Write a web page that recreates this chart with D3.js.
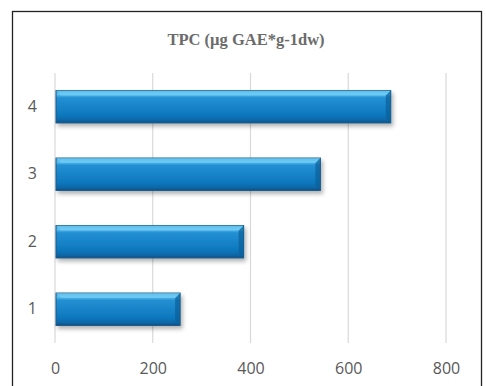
<!DOCTYPE html>
<html>
<head>
<meta charset="utf-8">
<script src="https://cdn.jsdelivr.net/npm/d3@7"></script>
<style>
  body { margin: 0; background: #fff; }
</style>
</head>
<body>
<div id="plot"></div>
<script>
// chart data
var categories = ["1", "2", "3", "4"];
var values = [256, 386, 543, 687];
var xTicks = [0, 200, 400, 600, 800];
var title = "TPC (\u00b5g GAE*g-1dw)";

const W = 486, H = 386;
const margin = {top: 73, right: 40, bottom: 43, left: 55},
    width = 446 - margin.left,
    height = 343 - margin.top;

var svg = d3.select("div#plot")
  .append("svg")
    .attr("width", W)
    .attr("height", H);

// gradient + shadow for the bevelled bars
var defs = svg.append("defs");
var grad = defs.append("linearGradient")
    .attr("id", "barGrad")
    .attr("x1", 0).attr("y1", 0).attr("x2", 0).attr("y2", 1);
grad.append("stop").attr("offset", "0%").attr("stop-color", "#3aa6e0");
grad.append("stop").attr("offset", "12%").attr("stop-color", "#5cc0ef");
grad.append("stop").attr("offset", "22%").attr("stop-color", "#2490d4");
grad.append("stop").attr("offset", "75%").attr("stop-color", "#0d78be");
grad.append("stop").attr("offset", "92%").attr("stop-color", "#0a66a6");
grad.append("stop").attr("offset", "100%").attr("stop-color", "#0a4f82");

var shadow = defs.append("filter").attr("id", "shadow")
    .attr("x", "-5%").attr("y", "-20%").attr("width", "115%").attr("height", "160%");
shadow.append("feDropShadow")
    .attr("dx", 2).attr("dy", 3).attr("stdDeviation", 2)
    .attr("flood-color", "#000").attr("flood-opacity", 0.3);

// outer frame
svg.append("rect")
    .attr("x", 12.5).attr("y", 11.5)
    .attr("width", 469).attr("height", 380)
    .attr("fill", "none")
    .attr("stroke", "#222")
    .attr("stroke-width", 1.3);

svg.append("text")
    .attr("x", 246).attr("y", 45)
    .attr("text-anchor", "middle")
    .attr("font-family", "Liberation Serif, Times New Roman, serif")
    .attr("font-weight", "bold")
    .attr("font-size", 16.5)
    .attr("fill", "#6b6b6b")
    .text(title);

var g = svg.append("g")
    .attr("transform", "translate(" + margin.left + "," + margin.top + ")");

var x = d3.scaleLinear()
  .domain([0, 800])
  .range([0, width]);

var y = d3.scaleBand()
  .domain(categories.slice().reverse())
  .range([0, height])
  .paddingInner(0.52)
  .paddingOuter(0.26);

// vertical gridlines
g.append("g")
  .selectAll("line")
  .data(xTicks)
  .join("line")
    .attr("x1", d => x(d)).attr("x2", d => x(d))
    .attr("y1", 0).attr("y2", height)
    .attr("stroke", "#d9d9d9")
    .attr("stroke-width", 1.2);

// x axis labels
var xAxis = d3.axisBottom(x).tickValues(xTicks).tickSize(0).tickPadding(20);
g.append("g")
    .attr("transform", "translate(0," + height + ")")
    .call(xAxis)
    .call(a => a.select(".domain").remove())
    .selectAll("text")
    .attr("font-family", "Open Sans, Liberation Sans, sans-serif")
    .attr("font-size", 16)
    .attr("fill", "#595959");

// y axis labels
var yAxis = d3.axisLeft(y).tickSize(0).tickPadding(18);
g.append("g")
    .call(yAxis)
    .call(a => a.select(".domain").remove())
    .selectAll("text")
    .attr("font-family", "Open Sans, Liberation Sans, sans-serif")
    .attr("font-size", 16)
    .attr("fill", "#595959");

var rows = categories.map((c, i) => ({cat: c, val: values[i]}));

var bars = g.append("g").selectAll("g.bar")
  .data(rows)
  .join("g")
    .attr("class", "bar");

bars.append("rect")
    .attr("x", x(0) + 1)
    .attr("y", d => y(d.cat))
    .attr("width", d => x(d.val) - x(0) - 1)
    .attr("height", y.bandwidth())
    .attr("fill", "url(#barGrad)")
    .attr("stroke", "#1d5a86")
    .attr("stroke-width", 1)
    .attr("filter", "url(#shadow)");

// bevel highlights at the bar ends
bars.append("path")
    .attr("d", function(d) {
      var x1 = x(d.val), y0 = y(d.cat), h = y.bandwidth(), b = 5;
      return "M" + x1 + "," + y0 + "L" + (x1 - b) + "," + (y0 + b) +
             "L" + (x1 - b) + "," + (y0 + h - b) + "L" + x1 + "," + (y0 + h) + "Z";
    })
    .attr("fill", "#0b5f99")
    .attr("opacity", 0.7);

bars.append("path")
    .attr("d", function(d) {
      var x0 = x(0) + 1, x1 = x(d.val), y0 = y(d.cat), b = 5;
      return "M" + x0 + "," + y0 + "L" + x1 + "," + y0 + "L" + (x1 - b) + "," + (y0 + b) +
             "L" + (x0 + b) + "," + (y0 + b) + "Z";
    })
    .attr("fill", "#7dd3f7")
    .attr("opacity", 0.55);
</script>
</body>
</html>
